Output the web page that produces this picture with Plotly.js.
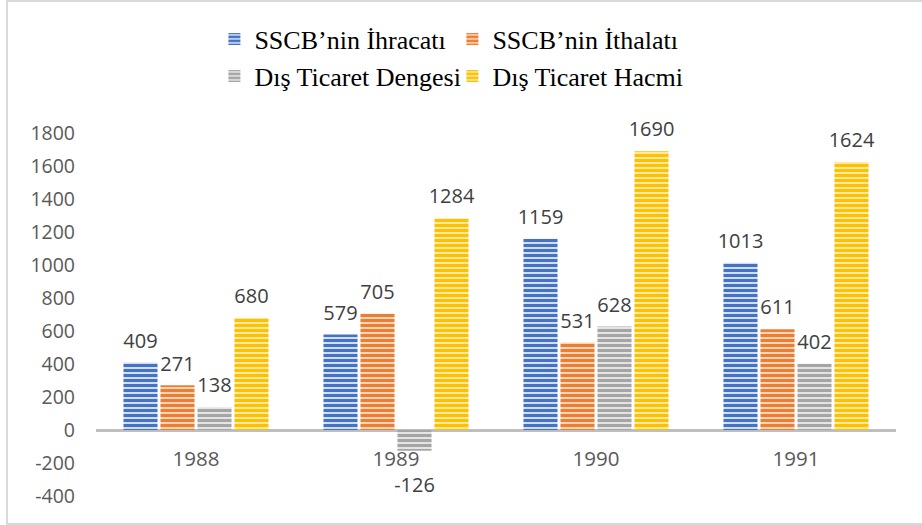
<!DOCTYPE html>
<html>
<head>
<meta charset="utf-8">
<script src="https://cdn.plot.ly/plotly-3.0.1.min.js"></script>
<style>
  html, body { margin: 0; padding: 0; background: #ffffff; }
  #chart { position: absolute; left: 0; top: 0; width: 922px; height: 525px; }
  #frame { position: absolute; left: 6px; top: 0; width: 940px; height: 525px;
           border: 2px solid #d9d9d9; box-sizing: border-box; pointer-events: none; }
</style>
</head>
<body>
<div id="chart"></div>
<div id="frame"></div>
<script>
// ---- data ----
const years = ['1988', '1989', '1990', '1991'];
const exportsVal = [409, 579, 1159, 1013];
const importsVal = [271, 705, 531, 611];
const balanceVal = [138, -126, 628, 402];
const volumeVal = [680, 1284, 1690, 1624];
const seriesNames = ['SSCB’nin İhracatı', 'SSCB’nin İthalatı', 'Dış Ticaret Dengesi', 'Dış Ticaret Hacmi'];
const yTicks = [-400, -200, 0, 200, 400, 600, 800, 1000, 1200, 1400, 1600, 1800];

// ---- styles ----
const fgColors = ['#4472C4', '#ED7D31', '#A5A5A5', '#FFC000'];
const bgColors = ['#d3def2', '#f9d5bc', '#e4e4e4', '#ffe9a6'];
const legendIds = ['legend', 'legend', 'legend2', 'legend2'];
const allValues = [exportsVal, importsVal, balanceVal, volumeVal];

const traces = [];
allValues.forEach((vals, i) => {
  traces.push({
    type: 'bar',
    name: seriesNames[i],
    x: years,
    y: vals,
    offsetgroup: 'g' + i,
    legend: legendIds[i],
    marker: {
      color: fgColors[i],
      line: { width: 0 },
      pattern: { shape: '-', fillmode: 'replace', fgcolor: fgColors[i], bgcolor: bgColors[i], size: 5, solidity: 0.6 }
    },
    hoverinfo: 'x+y+name'
  });
});
allValues.forEach((vals, i) => {
  traces.push({
    type: 'scatter',
    mode: 'markers+text',
    x: years,
    y: vals,
    offsetgroup: 'g' + i,
    showlegend: false,
    cliponaxis: false,
    text: vals.map(v => String(v)),
    textposition: vals.map(v => v < 0 ? 'bottom center' : 'top center'),
    textfont: { family: 'Open Sans, sans-serif', size: 20, color: '#404040' },
    marker: { size: vals.map(v => v < 0 ? 40 : 14), opacity: 0 },
    hoverinfo: 'skip'
  });
});

const layout = {
  width: 922,
  height: 525,
  margin: { l: 96, r: 26, t: 133, b: 29 },
  paper_bgcolor: 'rgba(0,0,0,0)',
  plot_bgcolor: 'rgba(0,0,0,0)',
  barmode: 'group',
  bargap: 0.26,
  bargroupgap: 0.08,
  scattermode: 'group',
  scattergap: 0.26,
  xaxis: {
    type: 'category',
    anchor: 'free',
    position: 0.142,
    showline: false,
    showgrid: false,
    zeroline: false,
    ticks: '',
    tickfont: { family: 'Open Sans, sans-serif', size: 20.5, color: '#595959' }
  },
  yaxis: {
    range: [-400, 1800],
    tickvals: yTicks,
    ticktext: yTicks.map(String),
    showgrid: false,
    showline: false,
    ticks: '',
    zeroline: true,
    zerolinecolor: '#bfbfbf',
    zerolinewidth: 2.5,
    ticklabelstandoff: 20,
    tickfont: { family: 'Open Sans, sans-serif', size: 19.5, color: '#595959' }
  },
  legend: {
    orientation: 'h',
    x: 0.148, xanchor: 'left',
    y: 1.259, yanchor: 'middle',
    entrywidth: 193,
    font: { family: 'Liberation Serif, Times New Roman, serif', size: 26, color: '#000000' },
    bgcolor: 'rgba(0,0,0,0)'
  },
  legend2: {
    orientation: 'h',
    x: 0.148, xanchor: 'left',
    y: 1.157, yanchor: 'middle',
    entrywidth: 193,
    font: { family: 'Liberation Serif, Times New Roman, serif', size: 26, color: '#000000' },
    bgcolor: 'rgba(0,0,0,0)'
  },
  showlegend: true
};

Plotly.newPlot('chart', traces, layout, { displayModeBar: false, staticPlot: false });
</script>
</body>
</html>
